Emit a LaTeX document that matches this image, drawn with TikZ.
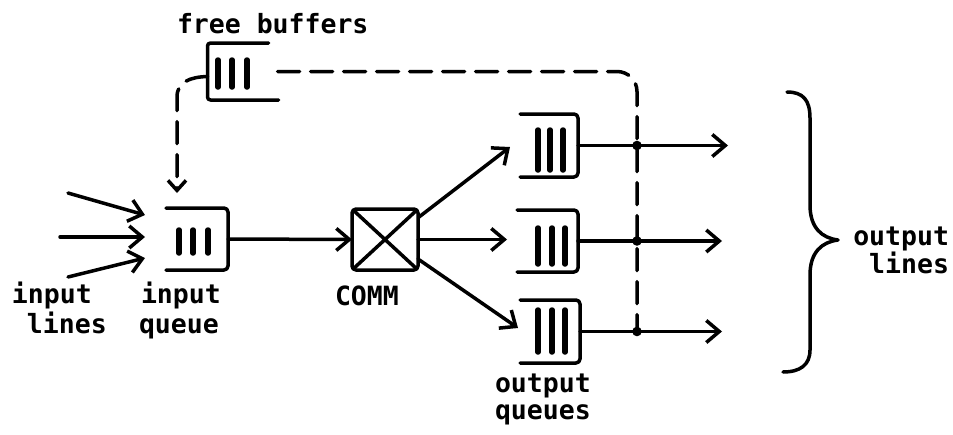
\documentclass[tikz,border=0pt]{standalone}
\usepackage{fontspec}
\setmainfont{DejaVu Sans Mono}
\usetikzlibrary{arrows.meta,calc}
\begin{document}
\begin{tikzpicture}[x=1pt,y=-1pt,line width=3.5pt,line cap=round,line join=round,
  every node/.style={inner sep=0pt,outer sep=0pt},
  qnode/.style={minimum width=62pt,minimum height=62pt},
  lbl/.style={font=\bfseries\fontsize{26.5}{30}\selectfont},
  arr/.style={-{Straight Barb[length=13pt,width=22pt,line width=3.5pt]}},
  bar/.style={line width=5.5pt},
  dsh/.style={dash pattern=on 22pt off 11pt}]
\useasboundingbox (0,0) rectangle (953,434);

% queue nodes
\node[qnode,minimum width=65pt,minimum height=57pt] (fb) at (240,71.5) {};
\node[qnode] (iq) at (197,239) {};
\node[qnode,minimum width=66pt,minimum height=61pt] (cm) at (385,239.5) {};
\node[qnode,minimum width=58pt,minimum height=63pt] (oq1) at (549,145.5) {};
\node[qnode,minimum width=61pt,minimum height=62pt] (oq2) at (547.5,241) {};
\node[qnode,minimum width=60pt,minimum height=63pt] (oq3) at (550,331.5) {};

% free buffers box (open to the right)
\draw[rounded corners=3pt] ([xshift=-4pt]fb.north east) -- (fb.north west) -- (fb.south west) -- ([xshift=6pt]fb.south east);
\foreach \dx in {-22,-8,7} \draw[bar] ($(fb.center)+(\dx,-11.5)$) -- ++(0,27);

% input queue (open to the left)
\draw[rounded corners=4pt] (iq.north west) -- (iq.north east) -- (iq.south east) -- (iq.south west);
\foreach \dx in {-18,-4,11} \draw[bar] ($(iq.center)+(\dx,-9)$) -- ++(0,23);

% COMM switch
\draw[rounded corners=4pt] (cm.north west) rectangle (cm.south east);
\draw[shorten >=2pt,shorten <=2pt] (cm.north west) -- (cm.south east);
\draw[shorten >=2pt,shorten <=2pt] (cm.north east) -- (cm.south west);

% output queues
\foreach \q/\a/\b/\c/\dy/\len in {oq1/-11/1/14/-15.5/40, oq2/-9.5/4.5/17.5/-13/36, oq3/-12/2/15/-21.5/42}{
  \draw[rounded corners=4pt] (\q.north west) -- (\q.north east) -- (\q.south east) -- (\q.south west);
  \foreach \dx in {\a,\b,\c} \draw[bar] ($(\q.center)+(\dx,\dy)$) -- ++(0,\len);
}

% coordinates for free ends
\coordinate (il1) at (68,193);
\coordinate (il2) at (60,237);
\coordinate (il3) at (68,277);
\coordinate (it1) at (145,215);
\coordinate (it2) at (145,237);
\coordinate (it3) at (145,258);
\coordinate (t1) at (728,145.5);
\coordinate (t2) at (722,241);
\coordinate (t3) at (722,331.5);
\coordinate (d1) at (637,145.5);
\coordinate (d2) at (637,241);
\coordinate (d3) at (637,331.5);

% input lines
\draw[arr] (il1) -- (it1);
\draw[arr] (il2) -- (it2);
\draw[arr] (il3) -- (it3);

% input queue to COMM
\draw[arr] (iq.east) -- (cm.west);

% COMM to output queues
\draw[arr] ($(cm.north east)+(1,8)$) -- ($(oq1.west)+(-10,1.5)$);
\draw[arr,shorten >=10pt] (cm.east) -- (cm.east -| oq2.west);
\draw[arr] ($(cm.south east)+(0,-11)$) -- ($(oq3.west)+(-2,-3.5)$);

% output lines
\draw[arr] (oq1.east) -- (t1);
\draw[arr] (oq2.east) -- (t2);
\draw[arr] (oq3.east) -- (t3);

% dashed buffer return path
\draw[dsh,rounded corners=20pt] ([xshift=5pt]fb.east) -| (d3);
\draw[dsh,-{Straight Barb[length=10pt,width=18pt,line width=3.5pt]}] ($(fb.west)+(0,5)$) .. controls (190,77) and (177,82) .. (177,97) -- ($(iq.north west)+(11,-15)$);

\foreach \d in {d1,d2,d3} \fill (\d) circle (4.8pt);

% brace
\draw (787,92) .. controls (803,92) and (810,100) .. (810,118) -- (810,205)
  .. controls (810,228) and (822,238) .. (838,240)
  .. controls (822,242) and (810,252) .. (810,275) -- (810,350)
  .. controls (810,365) and (800,372) .. (783,372);

% labels
\node[lbl,anchor=base west] (lfb) at (177,33) {free buffers};
\node[lbl,anchor=base west] (lil1) at (12,303) {input};
\node[lbl,anchor=base west] (lil2) at (27,333) {lines};
\node[lbl,anchor=base west] (liq1) at (141,303) {input};
\node[lbl,anchor=base west] (liq2) at (139,333) {queue};
\node[lbl,anchor=base west] (lcm) at (335,305) {COMM};
\node[lbl,anchor=base west] (loq1) at (495,392) {output};
\node[lbl,anchor=base west] (loq2) at (495,419) {queues};
\node[lbl,anchor=base east] (lol1) at (949,245) {output};
\node[lbl,anchor=base east] (lol2) at (949,273) {lines};
\end{tikzpicture}
\end{document}
